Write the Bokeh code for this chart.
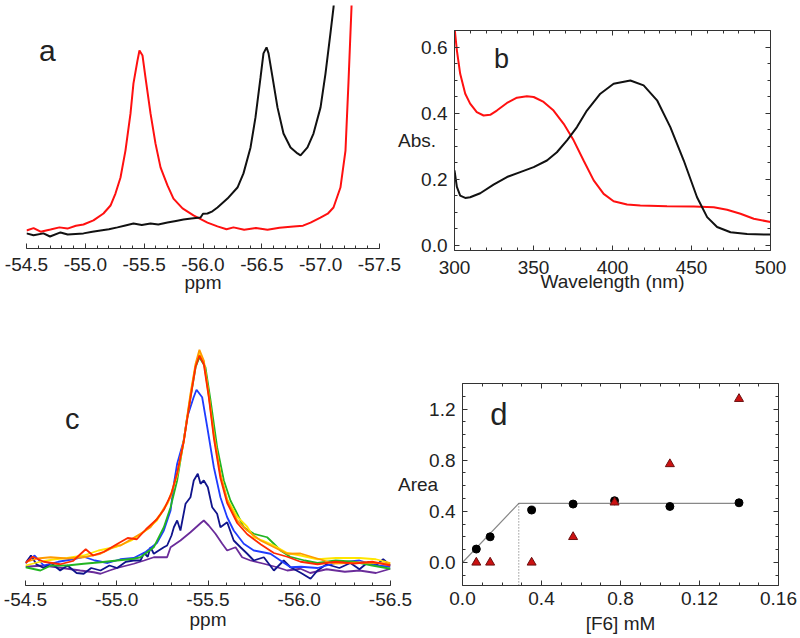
import numpy as np
from bokeh.plotting import figure
from bokeh.models import (Range1d, LinearAxis, SingleIntervalTicker, FixedTicker,
                          PrintfTickFormatter, CustomJSTickFormatter, Label)
from bokeh.embed import file_html
from bokeh.resources import INLINE

FONT = "Liberation Sans"
TXT = "#222222"
AX = "#333333"

# ---------------- panel a : 19F NMR spectra ----------------
a_red_ppm = [-54.500, -54.560, -54.620, -54.704, -54.780, -54.848, -54.920, -54.984, -55.069, -55.154,
             -55.214, -55.256, -55.299, -55.341, -55.384, -55.409, -55.443, -55.460, -55.486, -55.511,
             -55.554, -55.596, -55.639, -55.698, -55.749, -55.826, -55.919, -56.038, -56.123, -56.200,
             -56.259, -56.350, -56.450, -56.548, -56.650, -56.769, -56.850, -56.914, -56.998, -57.060,
             -57.109, -57.168, -57.211, -57.236, -57.253, -57.262, -57.270]
a_red_int = [7.5, 8.5, 7.0, 7.9, 8.8, 8.3, 9.5, 10.0, 11.7, 14.6,
             17.9, 22.9, 29.6, 40.8, 56.3, 68.8, 78.3, 82.5, 80.4, 71.3,
             56.3, 43.8, 33.8, 26.3, 20.8, 16.7, 13.8, 10.8, 9.2, 8.0,
             8.8, 7.8, 8.5, 7.8, 8.6, 9.2, 9.5, 10.8, 12.9, 14.5,
             17.1, 25.4, 40.8, 68.8, 89.6, 100.4, 115.0]
a_blk_ppm = [-54.500, -54.560, -54.644, -54.700, -54.789, -54.850, -54.984, -55.060, -55.129, -55.200,
             -55.273, -55.340, -55.409, -55.480, -55.554, -55.620, -55.698, -55.770, -55.834, -55.900,
             -55.979, -56.000, -56.038, -56.080, -56.123, -56.208, -56.293, -56.344, -56.404, -56.446,
             -56.489, -56.514, -56.540, -56.557, -56.591, -56.633, -56.684, -56.744, -56.803, -56.829,
             -56.888, -56.939, -56.999, -57.041, -57.083, -57.109, -57.130]
a_blk_int = [6.3, 5.5, 6.3, 5.0, 6.7, 5.8, 6.3, 7.0, 7.5, 8.0,
             8.8, 9.6, 10.4, 9.8, 10.4, 10.0, 10.8, 11.5, 12.1, 12.5,
             12.9, 14.5, 14.6, 15.5, 17.1, 20.8, 25.4, 31.3, 42.1, 54.6,
             71.3, 81.3, 83.8, 81.3, 71.3, 58.8, 47.9, 42.1, 39.6, 38.8,
             42.1, 47.9, 58.8, 72.9, 89.6, 100.4, 112.0]

# ---------------- panel b : absorption spectra ----------------
b_red_nm = [300, 301.5, 303.6, 306.8, 309.9, 314.1, 318.4, 322.6, 326.8, 333.2, 339.5, 345.8, 350.1,
            356.4, 362.7, 369.1, 375.4, 381.7, 388.1, 394.4, 400.7, 409.2, 417.6, 434.5, 451.4, 464.1,
            472.5, 481.0, 489.4, 500]
b_red_abs = [0.66, 0.59, 0.519, 0.459, 0.429, 0.403, 0.393, 0.395, 0.408, 0.431, 0.447, 0.451, 0.449,
             0.434, 0.408, 0.368, 0.318, 0.257, 0.197, 0.156, 0.134, 0.124, 0.121, 0.119, 0.118, 0.116,
             0.108, 0.096, 0.081, 0.071]
b_blk_nm = [300, 301.5, 303.6, 306.8, 309.9, 316.3, 324.7, 333.2, 341.6, 350.1, 358.5, 364.8, 371.2,
            377.5, 383.8, 392.3, 400.7, 411.3, 419.7, 428.2, 436.6, 445.1, 453.5, 459.9, 466.2, 474.7,
            485.2, 500]
b_blk_abs = [0.227, 0.177, 0.151, 0.144, 0.146, 0.158, 0.184, 0.207, 0.222, 0.237, 0.257, 0.282, 0.318,
             0.358, 0.408, 0.459, 0.489, 0.499, 0.484, 0.439, 0.358, 0.257, 0.146, 0.086, 0.056, 0.040,
             0.035, 0.033]

# ---------------- panel c : titration spectra ----------------
c_purple_ppm = [-54.500, -54.600, -54.700, -54.800, -54.874, -54.911, -54.960, -55.002, -55.093, -55.150,
                -55.203, -55.276, -55.295, -55.349, -55.404, -55.459, -55.477, -55.504, -55.541, -55.578,
                -55.605, -55.651, -55.687, -55.733, -55.806, -55.879, -55.934, -56.007, -56.060, -56.150,
                -56.250, -56.330, -56.420, -56.500]
c_purple_int = [7.5, 8.0, 7.0, 6.0, 5.3, 4.7, 6.0, 7.0, 8.7, 10.0,
                11.3, 11.3, 15.3, 18.0, 21.3, 24.9, 26.0, 24.0, 20.7, 16.7,
                14.0, 15.3, 11.3, 10.0, 8.7, 7.3, 6.0, 6.7, 5.0, 6.5,
                5.5, 6.0, 5.0, 6.7]
c_navy_ppm = [-54.500, -54.530, -54.560, -54.600, -54.640, -54.690, -54.730, -54.780, -54.819, -54.860,
              -54.911, -54.960, -55.002, -55.050, -55.093, -55.130, -55.150, -55.170, -55.185, -55.203,
              -55.230, -55.258, -55.276, -55.300, -55.313, -55.331, -55.349, -55.377, -55.404, -55.422,
              -55.444, -55.459, -55.477, -55.499, -55.523, -55.550, -55.568, -55.605, -55.641, -55.678,
              -55.715, -55.751, -55.806, -55.861, -55.915, -55.952, -56.010, -56.062, -56.100, -56.150,
              -56.220, -56.280, -56.330, -56.380, -56.420, -56.460, -56.500]
c_navy_int = [9.0, 12.0, 8.5, 7.0, 9.0, 6.0, 8.0, 5.0, 4.7, 7.0,
              6.0, 8.0, 7.0, 9.5, 10.0, 10.0, 13.0, 11.5, 15.3, 12.7,
              14.0, 15.3, 16.0, 20.0, 23.3, 26.0, 22.0, 32.7, 35.3, 42.0,
              44.7, 40.7, 42.0, 39.3, 31.3, 28.7, 23.3, 25.3, 18.0, 15.3,
              12.7, 10.0, 11.3, 6.0, 10.0, 7.3, 5.0, 2.7, 6.0, 8.5,
              7.0, 9.0, 6.5, 9.5, 8.0, 10.5, 8.0]
c_blue_ppm = [-54.500, -54.550, -54.600, -54.680, -54.760, -54.819, -54.880, -54.950, -55.020, -55.093,
              -55.160, -55.220, -55.258, -55.295, -55.313, -55.331, -55.367, -55.386, -55.420, -55.437,
              -55.468, -55.496, -55.532, -55.568, -55.605, -55.641, -55.696, -55.751, -55.842, -55.897,
              -55.952, -56.010, -56.100, -56.200, -56.330, -56.420, -56.500]
c_blue_int = [9.0, 12.0, 8.0, 9.5, 10.5, 11.5, 10.0, 9.0, 10.5, 11.0,
              13.5, 17.0, 22.0, 30.0, 40.7, 48.7, 58.0, 67.3, 75.0, 78.3,
              75.3, 63.3, 47.3, 35.3, 27.3, 22.0, 16.7, 14.0, 12.7, 10.0,
              7.3, 7.5, 7.0, 9.0, 10.0, 8.0, 7.5]
c_green_ppm = [-54.500, -54.582, -54.640, -54.728, -54.819, -54.911, -55.002, -55.093, -55.130, -55.203,
               -55.258, -55.295, -55.331, -55.367, -55.404, -55.432, -55.453, -55.486, -55.514, -55.550,
               -55.587, -55.623, -55.651, -55.696, -55.751, -55.824, -55.861, -55.897, -55.950, -56.030,
               -56.100, -56.200, -56.300, -56.400, -56.500]
c_green_int = [7.3, 6.0, 8.0, 8.0, 8.7, 9.3, 10.0, 10.7, 11.3, 15.3,
               23.3, 31.3, 42.0, 58.0, 75.3, 87.3, 91.3, 87.3, 74.0, 55.3,
               42.0, 34.0, 30.0, 23.3, 20.7, 19.3, 16.7, 14.0, 11.5, 10.0,
               9.0, 10.0, 9.5, 8.0, 6.7]
c_yellow_ppm = [-54.500, -54.580, -54.660, -54.728, -54.819, -54.900, -55.000, -55.080, -55.150, -55.220,
                -55.280, -55.331, -55.367, -55.404, -55.432, -55.453, -55.477, -55.504, -55.532, -55.568,
                -55.605, -55.660, -55.715, -55.751, -55.800, -55.861, -55.934, -56.007, -56.100, -56.200,
                -56.330, -56.420, -56.500]
c_yellow_int = [8.0, 9.5, 10.5, 11.0, 12.0, 14.0, 15.5, 18.0, 21.5, 26.0,
                33.0, 44.0, 57.5, 76.0, 88.0, 93.2, 89.5, 76.0, 60.0, 44.5,
                34.5, 27.5, 23.5, 19.3, 18.0, 16.0, 13.0, 12.0, 10.5, 11.0,
                11.0, 10.5, 9.0]
c_orange_ppm = [-54.500, -54.564, -54.637, -54.728, -54.819, -54.911, -55.002, -55.021, -55.075, -55.130,
                -55.185, -55.240, -55.295, -55.331, -55.367, -55.404, -55.432, -55.453, -55.477, -55.504,
                -55.532, -55.568, -55.605, -55.660, -55.715, -55.788, -55.879, -55.934, -56.007, -56.098,
                -56.188, -56.336, -56.500]
c_orange_int = [9.3, 10.8, 11.3, 10.8, 11.3, 12.7, 16.0, 16.0, 18.3, 20.7,
                23.3, 28.7, 35.3, 44.7, 58.0, 76.7, 88.7, 94.3, 90.0, 76.7,
                60.7, 44.7, 34.0, 26.0, 22.0, 18.0, 14.7, 12.7, 12.8, 10.8,
                8.8, 9.2, 8.8]
c_red_ppm = [-54.500, -54.540, -54.600, -54.690, -54.760, -54.830, -54.870, -54.930, -55.000, -55.060,
             -55.110, -55.160, -55.220, -55.260, -55.300, -55.331, -55.367, -55.404, -55.432, -55.453,
             -55.477, -55.504, -55.532, -55.568, -55.605, -55.660, -55.715, -55.788, -55.861, -55.934,
             -56.007, -56.100, -56.200, -56.300, -56.400, -56.500]
c_red_int = [9.0, 11.5, 9.5, 8.5, 9.8, 14.5, 12.0, 13.5, 16.5, 19.0,
             18.5, 22.5, 26.5, 30.5, 37.0, 45.0, 57.5, 75.0, 87.5, 92.0,
             88.5, 75.5, 59.0, 43.0, 33.0, 25.0, 20.5, 16.5, 13.0, 11.5,
             9.5, 8.5, 9.5, 8.8, 9.5, 8.0]

# ---------------- panel d : peak areas ----------------
d_conc = [0.007, 0.014, 0.035, 0.056, 0.077, 0.105, 0.140]
d_area_black = [0.105, 0.201, 0.410, 0.457, 0.483, 0.438, 0.467]
d_area_red = [0.0, 0.0, 0.0, 0.20, 0.47, 0.77, 1.28]
d_fit_x = [0.0, 0.0285, 0.140]
d_fit_y = [0.0, 0.462, 0.462]
d_break_x = [0.0285, 0.0285]
d_break_y = [0.462, -0.18]
d_xticks = [0.0, 0.04, 0.08, 0.12, 0.16]
d_xtick_labels = ["0.0", "0.4", "0.8", "0.12", "0.16"]


def style_axis(ax, standoff=7, label_standoff=-5, tick_size="19px", label_size="19px"):
    ax.axis_line_color = AX
    ax.axis_line_width = 1
    ax.major_tick_line_color = AX
    ax.minor_tick_line_color = AX
    ax.major_tick_in = 5
    ax.major_tick_out = 0
    ax.minor_tick_in = 3
    ax.minor_tick_out = 0
    ax.major_label_text_font = FONT
    ax.major_label_text_font_size = tick_size
    ax.major_label_text_color = TXT
    ax.major_label_standoff = standoff
    ax.axis_label_text_font = FONT
    ax.axis_label_text_font_size = label_size
    ax.axis_label_text_font_style = "normal"
    ax.axis_label_text_color = TXT
    ax.axis_label_standoff = label_standoff


def make_fig(w, h, l, r, t, b, xr, yr, left, top, yaxis=True):
    p = figure(width=w, height=h, x_range=xr, y_range=yr, output_backend="svg", title=None,
               toolbar_location=None, min_border_left=l, min_border_right=r,
               min_border_top=t, min_border_bottom=b,
               x_axis_location="below", y_axis_location=("left" if yaxis else None))
    p.grid.visible = False
    p.border_fill_color = None
    p.background_fill_color = None
    p.outline_line_color = None
    p.styles = {"position": "absolute", "left": f"{left}px", "top": f"{top}px"}
    return p


def mirror_axes(p, xticker, yticker):
    for loc, tk in (("above", xticker), ("right", yticker)):
        ax = LinearAxis(ticker=tk, formatter=CustomJSTickFormatter(code="return ''"))
        style_axis(ax, standoff=0)
        ax.major_label_text_font_size = "1px"
        p.add_layout(ax, loc)


def horizontal_ylabel(p, text, standoff):
    ax = p.yaxis[0]
    ax.axis_label = text
    ax.axis_label_standoff = standoff
    try:
        ax.axis_label_orientation = "horizontal"
    except Exception:
        pass


def panel_label(p, x, y, text, size):
    p.add_layout(Label(x=x, y=y, text=text, text_font=FONT, text_font_size=size,
                       text_color=TXT, text_align="center", text_baseline="alphabetic"))


# ---------- A ----------
A = make_fig(405, 300, 26, 26, 5, 52, Range1d(-54.5, -57.5), Range1d(0, 101.25), 0, 0, yaxis=False)
A.line(a_red_ppm, a_red_int, line_color="#ff1010", line_width=2)
A.line(a_blk_ppm, a_blk_int, line_color="#111111", line_width=2)
ax = A.xaxis[0]
ax.ticker = SingleIntervalTicker(interval=0.5, num_minor_ticks=5)
ax.formatter = PrintfTickFormatter(format="%.1f")
ax.axis_label = "ppm"
style_axis(ax, standoff=9, label_standoff=-2)
panel_label(A, -54.678, 82.5, "a", "30px")

# ---------- B ----------
B = make_fig(410, 300, 64, 30, 30, 50, Range1d(300, 500), Range1d(-0.015, 0.65), 390, 0)
B.line(b_red_nm, b_red_abs, line_color="#ff1010", line_width=2)
B.line(b_blk_nm, b_blk_abs, line_color="#111111", line_width=2)
B.xaxis[0].ticker = SingleIntervalTicker(interval=50, num_minor_ticks=5)
B.yaxis[0].ticker = SingleIntervalTicker(interval=0.2, num_minor_ticks=4)
B.yaxis[0].formatter = PrintfTickFormatter(format="%.1f")
B.xaxis[0].axis_label = "Wavelength (nm)"
style_axis(B.xaxis[0], standoff=10, label_standoff=-6)
style_axis(B.yaxis[0], standoff=7)
horizontal_ylabel(B, "Abs.", -18)
mirror_axes(B, SingleIntervalTicker(interval=50, num_minor_ticks=5),
            SingleIntervalTicker(interval=0.2, num_minor_ticks=4))
panel_label(B, 329.7, 0.565, "b", "27px")

# ---------- C ----------
C = make_fig(420, 338, 25, 30, 35, 53, Range1d(-54.5, -56.5), Range1d(0, 100), 0, 300, yaxis=False)
for xs, ys, col in ((c_purple_ppm, c_purple_int, "#6a2c9a"),
                    (c_navy_ppm, c_navy_int, "#10148c"),
                    (c_blue_ppm, c_blue_int, "#1f3cff"),
                    (c_green_ppm, c_green_int, "#22b522"),
                    (c_yellow_ppm, c_yellow_int, "#ffe600"),
                    (c_orange_ppm, c_orange_int, "#ff9a00"),
                    (c_red_ppm, c_red_int, "#ff2a00")):
    C.line(xs, ys, line_color=col, line_width=1.8)
cx = C.xaxis[0]
cx.ticker = SingleIntervalTicker(interval=0.5, num_minor_ticks=5)
cx.formatter = PrintfTickFormatter(format="%.1f")
cx.axis_label = "ppm"
style_axis(cx, standoff=7, label_standoff=0)
panel_label(C, -54.756, 66.7, "c", "29px")

# ---------- D ----------
D = make_fig(410, 338, 72, 22, 83, 53, Range1d(0, 0.16), Range1d(-0.18, 1.4), 390, 300)
D.line(d_fit_x, d_fit_y, line_color="#888888", line_width=1.2)
D.line(d_break_x, d_break_y, line_color="#666666", line_width=1, line_dash="1 2")
D.scatter(d_conc, d_area_black, marker="circle", size=8, fill_color="#000000", line_color="#000000")
D.scatter(d_conc, d_area_red, marker="triangle", size=9, fill_color="#cc1111", line_color="#6a1010")
D.xaxis[0].ticker = FixedTicker(ticks=d_xticks, minor_ticks=[i * 0.01 for i in range(17)])
D.xaxis[0].formatter = CustomJSTickFormatter(
    args=dict(pos=d_xticks, labels=d_xtick_labels),
    code="for (let i = 0; i < pos.length; i++) { if (Math.abs(tick - pos[i]) < 1e-9) return labels[i]; } return '';")
D.yaxis[0].ticker = SingleIntervalTicker(interval=0.4, num_minor_ticks=4)
D.yaxis[0].formatter = PrintfTickFormatter(format="%.1f")
D.xaxis[0].axis_label = "[F6] mM"
style_axis(D.xaxis[0], standoff=6, label_standoff=5)
style_axis(D.yaxis[0], standoff=7)
horizontal_ylabel(D, "Area", -12)
mirror_axes(D, FixedTicker(ticks=d_xticks, minor_ticks=[i * 0.01 for i in range(17)]),
            SingleIntervalTicker(interval=0.4, num_minor_ticks=4))
panel_label(D, 0.0184, 1.154, "d", "31px")

open("out.html", "w").write(file_html([A, B, C, D], INLINE))
